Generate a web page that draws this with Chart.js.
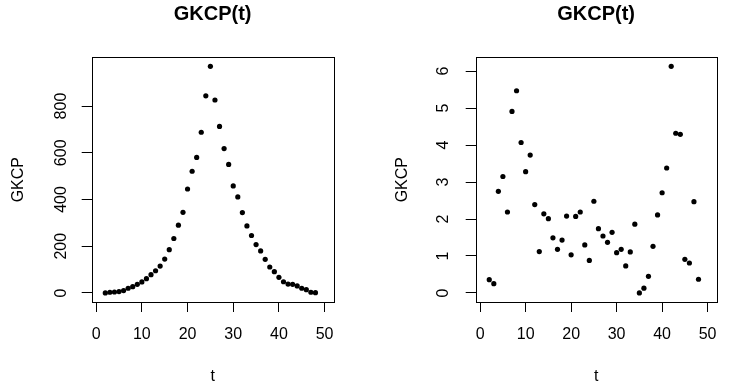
<!DOCTYPE html>
<html>
<head>
<meta charset="utf-8">
<script src="https://cdn.jsdelivr.net/npm/chart.js@4.4.1/dist/chart.umd.min.js"></script>
<style>
  html, body { margin: 0; padding: 0; background: #fff; }
  #wrap { position: relative; width: 730px; height: 390px; background: #fff; overflow: hidden; }
  canvas { position: absolute; top: 0; }
</style>
</head>
<body>
<div id="wrap">
  <canvas id="c1" width="347" height="390" style="left:0px"></canvas>
  <canvas id="c2" width="346" height="390" style="left:384px"></canvas>
</div>
<script>
// ---- data ----
const tValues = [2,3,4,5,6,7,8,9,10,11,12,13,14,15,16,17,18,19,20,21,22,23,24,25,
                 26,27,28,29,30,31,32,33,34,35,36,37,38,39,40,41,42,43,44,45,46,47,48];
const gkcpLeft = [0,3,4,6,10,20,27,37,47,61,78,95,115,145,185,233,290,345,445,521,580,688,844,970,
                  826,713,618,550,458,411,344,287,246,207,180,144,111,91,67,48,38,37,30,20,14,3,1];
const gkcpRight = [0.36,0.25,2.75,3.15,2.19,4.91,5.47,4.07,3.28,3.73,2.39,1.12,2.14,2.01,1.49,1.18,1.43,2.08,1.03,2.07,2.19,1.30,0.88,2.48,
                   1.74,1.54,1.37,1.64,1.09,1.18,0.73,1.11,1.86,0.00,0.13,0.45,1.26,2.11,2.71,3.38,6.13,4.32,4.29,0.91,0.81,2.47,0.37];
const xTicks = [0,10,20,30,40,50];
const yTicksLeft = [0,200,400,600,800];
const yTicksRight = [0,1,2,3,4,5,6];
const chartTitle = 'GKCP(t)';
const xLabel = 't';
const yLabel = 'GKCP';

const FONT = "'Liberation Sans', Arial, Helvetica, sans-serif";

const boxPlugin = {
  id: 'rbox',
  afterDraw(chart) {
    const a = chart.chartArea, ctx = chart.ctx;
    ctx.save();
    ctx.strokeStyle = '#000';
    ctx.lineWidth = 1;
    ctx.strokeRect(Math.round(a.left) + 0.5, Math.round(a.top) + 0.5,
                   Math.round(a.right - a.left), Math.round(a.bottom - a.top));
    ctx.restore();
  }
};

function makeChart(id, values, yMin, yMax, yTicks, yTickPad) {
  const pts = tValues.map((t, i) => ({ x: t, y: values[i] }));
  return new Chart(document.getElementById(id), {
    type: 'scatter',
    data: { datasets: [{ data: pts, backgroundColor: '#000', borderWidth: 0, pointRadius: 2.6, pointHoverRadius: 2.6 }] },
    options: {
      responsive: false,
      animation: false,
      events: [],
      layout: { padding: { left: 0, right: 2, top: 0, bottom: 0 } },
      plugins: {
        legend: { display: false },
        tooltip: { enabled: false },
        title: {
          display: true, text: chartTitle, fullSize: false, color: '#000',
          font: { family: FONT, size: 20, weight: 'bold', lineHeight: 1.15 },
          padding: { top: 3, bottom: 31.3 }
        }
      },
      scales: {
        x: {
          type: 'linear', min: -0.98, max: 51.96,
          afterBuildTicks: s => { s.ticks = xTicks.map(v => ({ value: v })); },
          afterFit: s => { s.height = 88; },
          grid: { drawOnChartArea: false, drawTicks: true, tickLength: 10, color: '#000', tickColor: '#000', tickWidth: 1 },
          border: { display: false },
          ticks: { color: '#000', font: { family: FONT, size: 16 }, padding: 13, maxRotation: 0, minRotation: 0 },
          title: { display: true, text: xLabel, color: '#000', font: { family: FONT, size: 16, lineHeight: 1.2 }, padding: { top: 0, bottom: 4 } }
        },
        y: {
          type: 'linear', min: yMin, max: yMax,
          afterBuildTicks: s => { s.ticks = yTicks.map(v => ({ value: v })); },
          afterFit: s => { s.width = 91.7; },
          grid: { drawOnChartArea: false, drawTicks: true, tickLength: 10, color: '#000', tickColor: '#000', tickWidth: 1 },
          border: { display: false },
          ticks: { color: '#000', font: { family: FONT, size: 16 }, padding: yTickPad, minRotation: 90, maxRotation: 90, crossAlign: 'center' },
          title: { display: true, text: yLabel, color: '#000', font: { family: FONT, size: 16, lineHeight: 1.2 }, padding: { top: 8.5, bottom: 0 } }
        }
      }
    },
    plugins: [boxPlugin]
  });
}

makeChart('c1', gkcpLeft, -38.8, 1008.8, yTicksLeft, 7);
makeChart('c2', gkcpRight, -0.245, 6.375, yTicksRight, 18);
</script>
</body>
</html>
